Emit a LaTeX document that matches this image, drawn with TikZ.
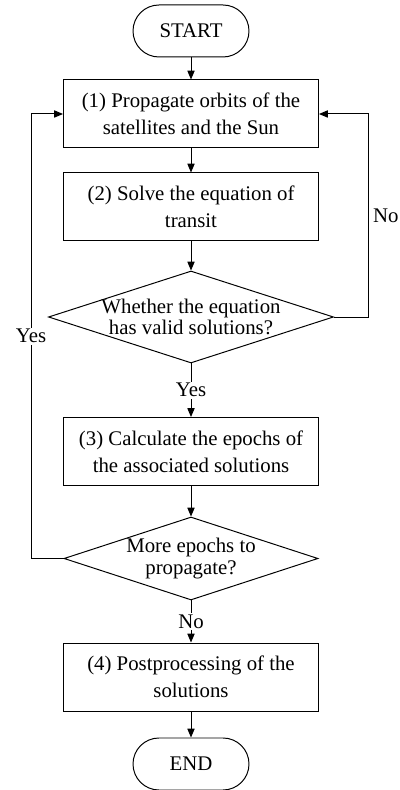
\documentclass[tikz,border=0pt]{standalone}
\usepackage{fontspec}
\setmainfont{Liberation Serif}
\usetikzlibrary{arrows.meta,shapes.geometric}

\begin{document}
\begin{tikzpicture}[
  font=\fontsize{14.8}{19.2}\selectfont,
  line width=0.7pt,
  >={Triangle[length=2.2mm,width=1.8mm]},
  term/.style={draw,rounded corners=0.65cm,minimum width=2.9cm,minimum height=1.3cm},
  stepbox/.style={draw,minimum width=6.375cm,minimum height=1.7cm,align=center},
  decide/.style={draw,diamond,inner sep=0pt},
  decidetext/.style={align=center,font=\fontsize{14.8}{15.5}\selectfont},
  lbl/.style={fill=white,inner sep=1pt}
]
\useasboundingbox (0,0) rectangle (10,19.75);

\node[term] (start) at (4.775,18.975) {START};
\node[stepbox] (s1) at (4.775,16.9) {(1) Propagate orbits of the\\satellites and the Sun};
\node[stepbox] (s2) at (4.775,14.575) {(2) Solve the equation of\\transit};
\node[decide,minimum width=7.125cm,minimum height=2.3cm] (d1) at (4.775,11.825) {};
\node[decidetext] (t1) at (d1.center) {Whether the equation\\has valid solutions?};
\node[stepbox] (s3) at (4.775,8.4625) {(3) Calculate the epochs of\\the associated solutions};
\node[decide,minimum width=6.35cm,minimum height=2.075cm] (d2) at (4.775,5.7875) {};
\node[decidetext] (t2) at (d2.center) {More epochs to\\propagate?};
\node[stepbox] (s4) at (4.775,2.825) {(4) Postprocessing of the\\solutions};
\node[term] (end) at (4.775,0.65) {END};

\coordinate (rloop) at (9.2,16.9);
\coordinate (lloop) at (0.775,16.9);

\draw[->] (start) -- (s1);
\draw[->] (s1) -- (s2);
\draw[->] (s2) -- (d1.north);
\draw[->] (d1.south) -- node[lbl]{Yes} (s3);
\draw[->] (s3) -- (d2.north);
\draw[->] (d2.south) -- node[lbl]{No} (s4);
\draw[->] (s4) -- (end);
\draw[->] (d1.east) -| node[right,pos=0.75]{No} (rloop) -- (s1.east);
\draw[->] (d2.west) -| node[lbl,pos=0.75]{Yes} (lloop) -- (s1.west);

\end{tikzpicture}
\end{document}
